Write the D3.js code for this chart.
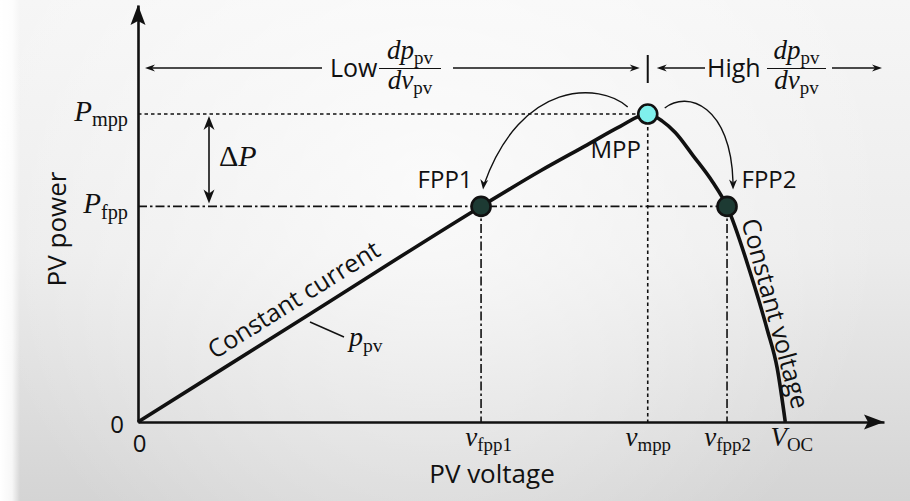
<!DOCTYPE html>
<html>
<head>
<meta charset="utf-8">
<script src="https://cdn.jsdelivr.net/npm/d3@7"></script>
<style>
  body { margin: 0; background: #ececec; }
  svg { display: block; }
</style>
</head>
<body>
<svg id="chart" width="910" height="501"></svg>
<script>
// PV power versus PV voltage (normalised units: V_OC = 40, P_mpp = 100)
const voltage = [0, 10.6, 21.2, 24.85, 27.76, 29.8, 31.5, 32.4, 33.2, 34.3, 35.5, 36.4, 37.84, 38.89, 39.5, 40];
const power   = [0, 35, 70, 81.5, 90, 96, 100, 97.7, 94, 86.5, 78, 70, 48.4, 29.9, 17.5, 0];

// Operating points on the curve
const pointNames   = ["FPP1", "MPP", "FPP2"];
const pointVoltage = [21.2, 31.5, 36.4];
const pointPower   = [70, 100, 70];

// Axis tick values and their labels [main symbol, subscript]
const xTickValues = [0, 21.2, 31.5, 36.4, 40];
const xTickLabels = [["0", ""], ["v", "fpp1"], ["v", "mpp"], ["v", "fpp2"], ["V", "OC"]];
const yTickValues = [0, 70, 100];
const yTickLabels = [["0", ""], ["P", "fpp"], ["P", "mpp"]];

const SANS = "'Open Sans', 'Noto Sans', sans-serif";
const SERIF = "'Liberation Serif', 'DejaVu Serif', serif";
const INK = "#111";

const svg = d3.select("#chart");
const W = 910, H = 501;

// ---- background shading ----
const defs = svg.append("defs");
const lg = defs.append("linearGradient").attr("id", "bgv").attr("x1", 0).attr("y1", 0).attr("x2", 0).attr("y2", 1);
lg.append("stop").attr("offset", "0%").attr("stop-color", "#f6f6f6");
lg.append("stop").attr("offset", "50%").attr("stop-color", "#ececec");
lg.append("stop").attr("offset", "100%").attr("stop-color", "#d4d4d4");
const rg = defs.append("radialGradient").attr("id", "bgr")
  .attr("gradientUnits", "userSpaceOnUse").attr("cx", 430).attr("cy", 190).attr("r", 460);
rg.append("stop").attr("offset", "0%").attr("stop-color", "#ffffff").attr("stop-opacity", 0.7);
rg.append("stop").attr("offset", "100%").attr("stop-color", "#ffffff").attr("stop-opacity", 0);
const lh = defs.append("linearGradient").attr("id", "bgl").attr("x1", 0).attr("y1", 0).attr("x2", 1).attr("y2", 0);
lh.append("stop").attr("offset", "0%").attr("stop-color", "#ffffff").attr("stop-opacity", 1);
lh.append("stop").attr("offset", "60%").attr("stop-color", "#ffffff").attr("stop-opacity", 0.8);
lh.append("stop").attr("offset", "100%").attr("stop-color", "#ffffff").attr("stop-opacity", 0);

svg.append("rect").attr("width", W).attr("height", H).attr("fill", "url(#bgv)");
svg.append("rect").attr("width", W).attr("height", H).attr("fill", "url(#bgr)");
svg.append("rect").attr("width", 20).attr("height", H).attr("fill", "url(#bgl)");

// ---- scales ----
const x = d3.scaleLinear().domain([0, 46.1]).range([138, 884]);
const y = d3.scaleLinear().domain([0, 135.4]).range([422, 5]);

// helper: math label with italic symbol and upright subscript
function mathText(sel, main, sub, size) {
  sel.text(null);
  sel.append("tspan").attr("font-family", SERIF).attr("font-style", "italic")
    .attr("font-size", size).text(main);
  if (sub) {
    sel.append("tspan").attr("font-family", SERIF).attr("font-style", "normal")
      .attr("font-size", size * 0.7).attr("dy", size * 0.2).text(sub);
  }
  return sel;
}

// ---- guide lines ----
const guides = svg.append("g").attr("fill", "none").attr("stroke", INK).attr("stroke-width", 1.6);
const iM = pointNames.indexOf("MPP"), iF1 = pointNames.indexOf("FPP1"), iF2 = pointNames.indexOf("FPP2");
guides.append("line")
  .attr("x1", x(0)).attr("x2", x(pointVoltage[iM]))
  .attr("y1", y(pointPower[iM])).attr("y2", y(pointPower[iM]))
  .attr("stroke-dasharray", "3.5,3");
guides.append("line")
  .attr("x1", x(pointVoltage[iM])).attr("x2", x(pointVoltage[iM]))
  .attr("y1", y(pointPower[iM])).attr("y2", y(0))
  .attr("stroke-dasharray", "3.5,3");
guides.append("line")
  .attr("x1", x(0)).attr("x2", x(pointVoltage[iF2]))
  .attr("y1", y(pointPower[iF1])).attr("y2", y(pointPower[iF1]))
  .attr("stroke-dasharray", "9,3,2.5,3");
[iF1, iF2].forEach(i => {
  guides.append("line")
    .attr("x1", x(pointVoltage[i])).attr("x2", x(pointVoltage[i]))
    .attr("y1", y(pointPower[i])).attr("y2", y(0))
    .attr("stroke-dasharray", "9,3,2.5,3");
});

// ---- axes ----
const gx = svg.append("g").attr("transform", `translate(0,${y(0)})`)
  .call(d3.axisBottom(x).tickValues(xTickValues).tickSize(0).tickSizeOuter(0).tickFormat(() => ""));
gx.select(".domain").attr("stroke", INK).attr("stroke-width", 2.6);
gx.selectAll(".tick text").each(function(d, i) {
  const t = d3.select(this).attr("fill", INK).attr("text-anchor", "middle").attr("dy", null);
  const [m, s] = xTickLabels[i];
  if (s) {
    const dx = (m === "V" ? 6 : (s === "fpp1" ? 7 : 0));
    t.attr("x", dx).attr("y", 24);
    mathText(t, m, s, 27);
  } else {
    t.attr("y", 30).attr("x", 1).attr("font-family", SANS).attr("font-size", 24).text(m);
  }
});

const gy = svg.append("g").attr("transform", `translate(${x(0)},0)`)
  .call(d3.axisLeft(y).tickValues(yTickValues).tickSize(0).tickSizeOuter(0).tickFormat(() => ""));
gy.select(".domain").attr("stroke", INK).attr("stroke-width", 2.6);
gy.selectAll(".tick text").each(function(d, i) {
  const t = d3.select(this).attr("fill", INK).attr("text-anchor", "end").attr("dy", null);
  const [m, s] = yTickLabels[i];
  if (s) {
    t.attr("x", -10).attr("y", 6);
    mathText(t, m, s, 29);
  } else {
    t.attr("x", -14).attr("y", 10).attr("font-family", SANS).attr("font-size", 24).text(m);
  }
});

// axis arrowheads
const xe = x.range()[1], ye = y(0), yt = y.range()[1], xo = x(0);
svg.append("path").attr("fill", INK)
  .attr("d", `M${xe},${ye} L${xe - 20},${ye - 7.5} L${xe - 16},${ye} L${xe - 20},${ye + 7.5} Z`);
svg.append("path").attr("fill", INK)
  .attr("d", `M${xo},${yt} L${xo - 7.5},${yt + 20} L${xo},${yt + 16} L${xo + 7.5},${yt + 20} Z`);

// axis titles
svg.append("text").attr("x", 492).attr("y", 483).attr("text-anchor", "middle")
  .attr("font-family", SANS).attr("font-size", 26).attr("fill", INK).text("PV voltage");
svg.append("text").attr("transform", `translate(57,229) rotate(-90)`).attr("text-anchor", "middle")
  .attr("dy", "0.36em").attr("font-family", SANS).attr("font-size", 26).attr("fill", INK).text("PV power");

// ---- PV power curve ----
const curveData = voltage.map((v, i) => [v, power[i]]);
svg.append("path").datum(curveData)
  .attr("fill", "none").attr("stroke", INK).attr("stroke-width", 3.6).attr("stroke-linejoin", "round")
  .attr("d", d3.line().x(d => x(d[0])).y(d => y(d[1])).curve(d3.curveMonotoneX));

// ---- small arrow helper ----
function arrowHead(g, tx, ty, ang, len = 10, half = 4) {
  const c = Math.cos(ang), s = Math.sin(ang);
  const bx = tx - len * c, by = ty - len * s;
  const nx = -s, ny = c;
  g.append("path").attr("fill", INK)
    .attr("d", `M${tx},${ty} L${bx + half * nx},${by + half * ny} L${tx - len * 0.7 * c},${ty - len * 0.7 * s} L${bx - half * nx},${by - half * ny} Z`);
}

// ---- curved arrows from MPP to FPP1 / FPP2 ----
const ann = svg.append("g");
const mx = x(pointVoltage[iM]), my = y(pointPower[iM]);
const f1x = x(pointVoltage[iF1]), f1y = y(pointPower[iF1]);
const f2x = x(pointVoltage[iF2]), f2y = y(pointPower[iF2]);
ann.append("path").attr("fill", "none").attr("stroke", INK).attr("stroke-width", 1.4)
  .attr("d", `M${mx - 20},${my - 7} C${mx - 48},${my - 32} ${f1x + 40},${my - 34} ${f1x + 3},${f1y - 22}`);
arrowHead(ann, f1x + 2, f1y - 17, Math.atan2(1, -0.12), 10, 4);
ann.append("path").attr("fill", "none").attr("stroke", INK).attr("stroke-width", 1.4)
  .attr("d", `M${mx + 17},${my - 6} C${mx + 40},${my - 24} ${f2x + 4},${my - 8} ${f2x + 6},${f2y - 24}`);
arrowHead(ann, f2x + 6, f2y - 17, Math.PI / 2, 10, 4);

// ---- operating point markers ----
svg.append("g").selectAll("circle").data(pointNames).join("circle")
  .attr("cx", (d, i) => x(pointVoltage[i])).attr("cy", (d, i) => y(pointPower[i]))
  .attr("r", 9.5)
  .attr("fill", d => d === "MPP" ? "#7ff0ec" : "#1d3a33")
  .attr("stroke", INK).attr("stroke-width", 2.6);

// point labels
const labelPos = { FPP1: [-36, -18], MPP: [-32, 44], FPP2: [42, -18] };
svg.append("g").selectAll("text").data(pointNames).join("text")
  .attr("x", (d, i) => x(pointVoltage[i]) + labelPos[d][0])
  .attr("y", (d, i) => y(pointPower[i]) + labelPos[d][1])
  .attr("text-anchor", "middle").attr("font-family", SANS).attr("font-size", 24).attr("fill", INK)
  .text(d => d);

// ---- Delta P double arrow ----
const dpx = 209;
ann.append("line").attr("x1", dpx).attr("x2", dpx).attr("y1", my + 8).attr("y2", f1y - 8)
  .attr("stroke", INK).attr("stroke-width", 1.6);
arrowHead(ann, dpx, my + 2, -Math.PI / 2, 14, 5.5);
arrowHead(ann, dpx, f1y - 3, Math.PI / 2, 14, 5.5);
const dP = ann.append("text").attr("x", 219).attr("y", 166).attr("fill", INK);
dP.append("tspan").attr("font-family", SERIF).attr("font-size", 30).text("Δ");
dP.append("tspan").attr("font-family", SERIF).attr("font-style", "italic").attr("font-size", 30).text("P");

// ---- slope region annotations at top ----
const topY = 68;
const topArrows = svg.append("g").attr("stroke", INK).attr("fill", "none").attr("stroke-width", 1.5);
topArrows.append("line").attr("x1", xo + 10).attr("x2", 322).attr("y1", topY).attr("y2", topY);
arrowHead(svg, xo + 7, topY, Math.PI, 10, 3.6);
topArrows.append("line").attr("x1", 453).attr("x2", mx - 12).attr("y1", topY).attr("y2", topY);
arrowHead(svg, mx - 8, topY, 0, 10, 3.6);
topArrows.append("line").attr("x1", mx).attr("x2", mx).attr("y1", 55).attr("y2", 83).attr("stroke-width", 2);
topArrows.append("line").attr("x1", mx + 12).attr("x2", 705).attr("y1", topY).attr("y2", topY);
arrowHead(svg, mx + 9, topY, Math.PI, 10, 3.6);
topArrows.append("line").attr("x1", 832).attr("x2", 879).attr("y1", topY).attr("y2", topY);
arrowHead(svg, 882, topY, 0, 10, 3.6);

function slopeLabel(word, wx, fx0, fx1) {
  svg.append("text").attr("x", wx).attr("y", topY + 9).attr("font-family", SANS)
    .attr("font-size", 25).attr("fill", INK).text(word);
  svg.append("line").attr("x1", fx0).attr("x2", fx1).attr("y1", topY + 0.5).attr("y2", topY + 0.5)
    .attr("stroke", INK).attr("stroke-width", 1.2);
  const cx = (fx0 + fx1) / 2;
  const num = svg.append("text").attr("x", cx).attr("y", topY - 9).attr("text-anchor", "middle").attr("fill", INK);
  mathText(num, "dp", "pv", 27);
  const den = svg.append("text").attr("x", cx).attr("y", topY + 21).attr("text-anchor", "middle").attr("fill", INK);
  mathText(den, "dv", "pv", 27);
}
slopeLabel("Low", 330, 379, 441);
slopeLabel("High", 707, 767, 826);

// ---- curve region labels ----
const a1 = Math.atan2(y(pointPower[iF1]) - y(0), x(pointVoltage[iF1]) - x(0)) * 180 / Math.PI;
const cv = 10.3;
const c1x = x(cv), c1y = y(0) + (x(cv) - x(0)) * (y(pointPower[iF1]) - y(0)) / (x(pointVoltage[iF1]) - x(0));
svg.append("text").attr("transform", `translate(${c1x},${c1y}) rotate(${a1})`)
  .attr("x", 0).attr("y", -12).attr("text-anchor", "middle")
  .attr("font-family", SANS).attr("font-size", 25).attr("fill", INK).text("Constant current");

const a2 = Math.atan2(y(0) - f2y, x(40) - f2x) * 180 / Math.PI;
const c2x = (f2x + x(40)) / 2 + 2, c2y = (f2y + y(0)) / 2 + 4;
svg.append("text").attr("transform", `translate(${c2x},${c2y}) rotate(${a2})`)
  .attr("x", 0).attr("y", -9).attr("text-anchor", "middle")
  .attr("font-family", SANS).attr("font-size", 25).attr("fill", INK).text("Constant voltage");

// p_pv leader
svg.append("line").attr("x1", 310).attr("y1", 322).attr("x2", 344).attr("y2", 337)
  .attr("stroke", INK).attr("stroke-width", 1.4);
const ppv = svg.append("text").attr("x", 349).attr("y", 346).attr("fill", INK);
mathText(ppv, "p", "pv", 28);
</script>
</body>
</html>
